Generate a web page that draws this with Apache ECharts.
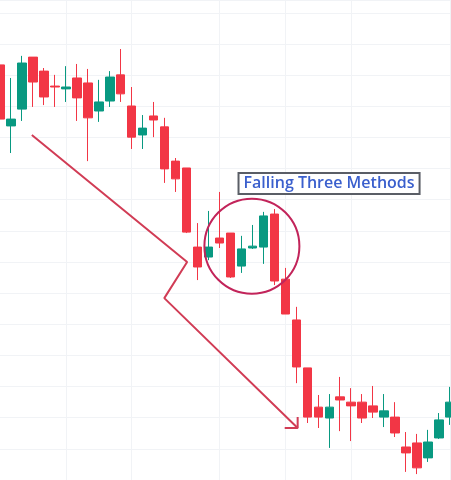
<!DOCTYPE html>
<html>
<head>
<meta charset="utf-8">
<script src="https://cdn.jsdelivr.net/npm/echarts@6/dist/echarts.min.js"></script>
<style>
  html, body { margin: 0; padding: 0; background: #fff; }
  #chart { width: 451px; height: 480px; }
</style>
</head>
<body>
<div id="chart"></div>
<script>
// candles: [open, close, low, high]
const candles = [
  [233.3, 215.9, 215.0, 234.2],
  [213.7, 215.9, 205.0, 229.1],
  [219.1, 233.9, 215.3, 236.2],
  [235.8, 227.8, 219.8, 235.8],
  [231.3, 223.0, 220.4, 232.3],
  [226.5, 226.2, 219.8, 230.1],
  [225.6, 226.2, 221.4, 232.9],
  [229.1, 222.7, 215.3, 233.6],
  [227.5, 216.3, 202.4, 232.0],
  [218.5, 221.4, 215.0, 228.5],
  [221.7, 229.4, 219.8, 231.3],
  [230.1, 224.0, 221.4, 238.4],
  [220.1, 210.1, 206.3, 226.2],
  [210.8, 213.0, 206.3, 217.2],
  [216.9, 215.6, 210.1, 221.4],
  [213.4, 199.9, 195.4, 216.3],
  [202.4, 196.7, 192.5, 203.4],
  [200.2, 179.6, 179.3, 200.2],
  [174.8, 168.4, 164.2, 182.5],
  [171.6, 174.8, 170.6, 186.4],
  [177.7, 176.1, 174.5, 192.5],
  [179.3, 165.2, 164.9, 179.3],
  [168.7, 174.2, 166.5, 178.4],
  [174.5, 175.1, 174.2, 181.9],
  [174.8, 184.8, 169.4, 186.1],
  [185.4, 163.9, 162.6, 187.0],
  [164.5, 153.3, 153.3, 168.1],
  [151.4, 136.3, 131.1, 155.6],
  [136.0, 120.2, 118.3, 136.0],
  [123.4, 120.2, 116.7, 127.3],
  [119.9, 123.4, 110.3, 127.6],
  [126.7, 125.7, 115.7, 133.1],
  [125.0, 123.8, 112.5, 129.5],
  [125.0, 119.9, 118.3, 127.6],
  [123.8, 121.8, 119.9, 130.2],
  [120.2, 122.2, 117.0, 127.6],
  [120.2, 115.1, 113.8, 125.0],
  [110.6, 108.7, 102.6, 115.4],
  [111.9, 103.9, 101.9, 114.8],
  [107.1, 112.2, 105.8, 116.1],
  [113.5, 119.3, 113.2, 121.5],
  [120.2, 125.0, 117.7, 129.9]
];
const categories = candles.map((_, i) => 'D' + (i + 1));
const vLineIdx = [6, 12, 20, 26, 32, 41];

// annotation anchors in [candle index, price]
const arrowPath = [[2.90, 210.8], [17.05, 170.0], [14.97, 158.4], [27.12, 116.7]];
const arrowHead = [[25.94, 116.7], [27.12, 116.7], [27.12, 120.2]];
const circleCenter = [22.95, 175.1];
const labelCenter = [29.98, 195.2];
const labelText = 'Falling Three Methods';

const up = '#089981';
const down = '#f23645';
const gridColor = '#f1f3f6';

const chart = echarts.init(document.getElementById('chart'));
chart.setOption({
  animation: false,
  grid: { left: -2, right: 1, top: 0, bottom: 0 },
  xAxis: [
    {
      type: 'category',
      data: categories,
      boundaryGap: false,
      axisLine: { show: false },
      axisTick: { show: false },
      axisLabel: { show: false },
      splitLine: {
        show: true,
        interval: (i) => vLineIdx.includes(i),
        lineStyle: { color: gridColor, width: 1 }
      }
    },
    { type: 'value', min: 0, max: 41, show: false }
  ],
  yAxis: {
    type: 'value',
    min: 100,
    max: 254.14,
    interval: 10,
    axisLine: { show: false },
    axisTick: { show: false },
    axisLabel: { show: false },
    splitLine: { lineStyle: { color: gridColor, width: 1 } }
  },
  series: [
    {
      type: 'candlestick',
      data: candles,
      barWidth: 9,
      clip: false,
      itemStyle: {
        color: up,
        color0: down,
        borderColor: up,
        borderColor0: down,
        borderWidth: 1
      }
    },
    {
      type: 'line',
      xAxisIndex: 1,
      data: arrowPath,
      symbol: 'none',
      lineStyle: { color: '#d13c55', width: 2 }
    },
    {
      type: 'line',
      xAxisIndex: 1,
      data: arrowHead,
      symbol: 'none',
      lineStyle: { color: '#d13c55', width: 2 }
    }
  ]
});

const finder = { xAxisIndex: 1, yAxisIndex: 0 };
const c = chart.convertToPixel(finder, circleCenter);
const t = chart.convertToPixel(finder, labelCenter);
chart.setOption({
  graphic: [
    {
      type: 'circle',
      shape: { cx: c[0], cy: c[1], r: 47.5 },
      style: { fill: 'none', stroke: '#c2245a', lineWidth: 2 },
      z: 10
    },
    {
      type: 'text',
      x: t[0],
      y: t[1],
      style: {
        text: labelText,
        fill: '#3a5fcd',
        font: '600 16px "Open Sans"',
        align: 'center',
        verticalAlign: 'middle',
        backgroundColor: '#fff',
        borderColor: '#5a5e66',
        borderWidth: 2,
        padding: [2, 4, 1, 4]
      },
      z: 10
    }
  ]
});
</script>
</body>
</html>
